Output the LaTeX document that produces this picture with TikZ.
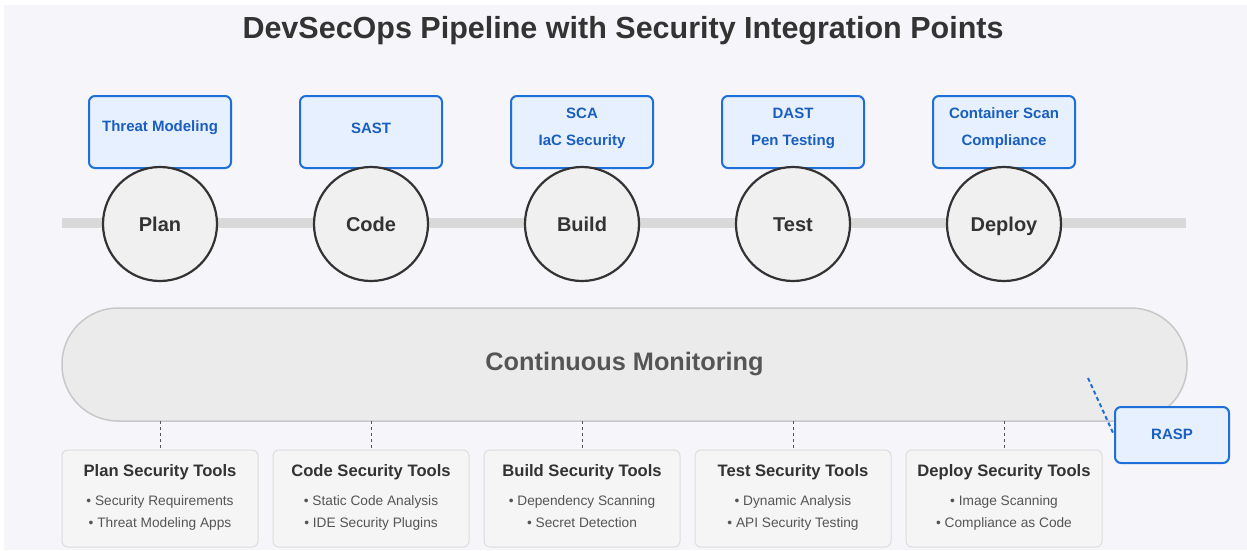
\documentclass[tikz,border=0pt]{standalone}
\usepackage{fontspec}
\setmainfont{Liberation Sans}
\usetikzlibrary{positioning}
\definecolor{bgc}{HTML}{F5F5FA}
\definecolor{ink}{HTML}{333333}
\definecolor{soft}{HTML}{555555}
\definecolor{secblue}{HTML}{1E6FD9}
\definecolor{secfill}{HTML}{E6F0FF}
\definecolor{sectext}{HTML}{1A5FBF}
\definecolor{pipe}{HTML}{D9D9D9}
\definecolor{stagefill}{HTML}{F0F0F0}
\definecolor{monfill}{HTML}{EBEBEB}
\definecolor{monline}{HTML}{C8C8C8}
\definecolor{toolfill}{HTML}{F5F5F5}
\definecolor{toolline}{HTML}{DDDDDD}
\tikzset{
  stage/.style={circle, draw=ink, line width=2.2pt, fill=stagefill, minimum size=114pt,
    inner sep=0pt, text height=16pt, text depth=2pt,
    font=\fontsize{20}{24}\selectfont\bfseries, text=ink},
  secbox/.style={draw=secblue, line width=2pt, fill=secfill, rounded corners=6pt,
    minimum width=142pt, minimum height=72pt, inner sep=0pt},
  sectxt/.style={align=center, inner sep=0pt,
    font=\fontsize{15}{27}\selectfont\bfseries, text=sectext},
  toolbox/.style={draw=toolline, line width=1pt, fill=toolfill, rounded corners=6pt,
    minimum width=196pt, minimum height=97pt, inner sep=0pt},
  tooltitle/.style={font=\fontsize{16.6}{19}\selectfont\bfseries, text=ink, inner sep=0pt},
  toolitems/.style={font=\fontsize{13.7}{22}\selectfont, text=soft, align=center, inner sep=0pt},
  link/.style={draw=soft, line width=1pt, dash pattern=on 3pt off 3pt},
  rasplink/.style={draw=secblue, line width=2pt, dash pattern=on 4pt off 3pt}
}
\begin{document}
\begin{tikzpicture}[x=1pt,y=-1pt]
  \useasboundingbox (0,0) rectangle (1247,550);
  \fill[white] (0,0) rectangle (1247,550);
  \fill[bgc] (4,5) rectangle (1247,550);

  % title
  \node[font=\fontsize{30.5}{34}\selectfont\bfseries, text=ink] (title) at (623,31)
    {DevSecOps Pipeline with Security Integration Points};

  % pipeline bar
  \coordinate (pipeL) at (62,223);
  \coordinate (pipeR) at (1186,223);
  \draw[pipe, line width=10pt] (pipeL) -- (pipeR);

  % stages with their security checkpoints
  \foreach \n/\x/\lab/\sec in {
      plan/160/Plan/{Threat Modeling},
      code/371/Code/SAST,
      build/582/Build/{SCA\\IaC Security},
      test/793/Test/{DAST\\Pen Testing},
      deploy/1004/Deploy/{Container Scan\\Compliance}} {
    \node[secbox] (sec-\n) at (\x,132) {};
    \node[sectxt] (sect-\n) at (\x,128) {\sec};
    \node[stage] (st-\n) at (\x,224) {\lab};
  }

  % continuous monitoring band
  \node[draw=monline, line width=1.5pt, fill=monfill, rounded corners=56pt,
        minimum width=1125pt, minimum height=113pt, inner sep=0pt,
        font=\fontsize{25.3}{29}\selectfont\bfseries, text=soft] (mon) at (624.5,364.5)
    {Continuous Monitoring};

  % runtime protection
  \node[secbox, minimum width=114pt, minimum height=56pt] (rasp) at (1172,435) {};
  \node[sectxt] (raspt) at (1172,434) {RASP};
  \coordinate (raspfrom) at (1088,378);
  \draw[rasplink] (raspfrom) -- (rasp.west);

  % tool boxes below the band
  \foreach \n/\x/\ttl/\a/\b in {
      plan/160/Plan Security Tools/Security Requirements/Threat Modeling Apps,
      code/371/Code Security Tools/Static Code Analysis/IDE Security Plugins,
      build/582/Build Security Tools/Dependency Scanning/Secret Detection,
      test/793/Test Security Tools/Dynamic Analysis/API Security Testing,
      deploy/1004/Deploy Security Tools/Image Scanning/Compliance as Code} {
    \node[toolbox] (tool-\n) at (\x,498.5) {};
    \node[tooltitle] (tt-\n) at (\x,472) {\ttl};
    \node[toolitems, anchor=north] (ti-\n) at (\x,495.5) {• \a\\• \b};
    \coordinate (top-\n) at (\x,421);
    \draw[link] (top-\n) -- (tool-\n.north);
  }
\end{tikzpicture}
\end{document}
